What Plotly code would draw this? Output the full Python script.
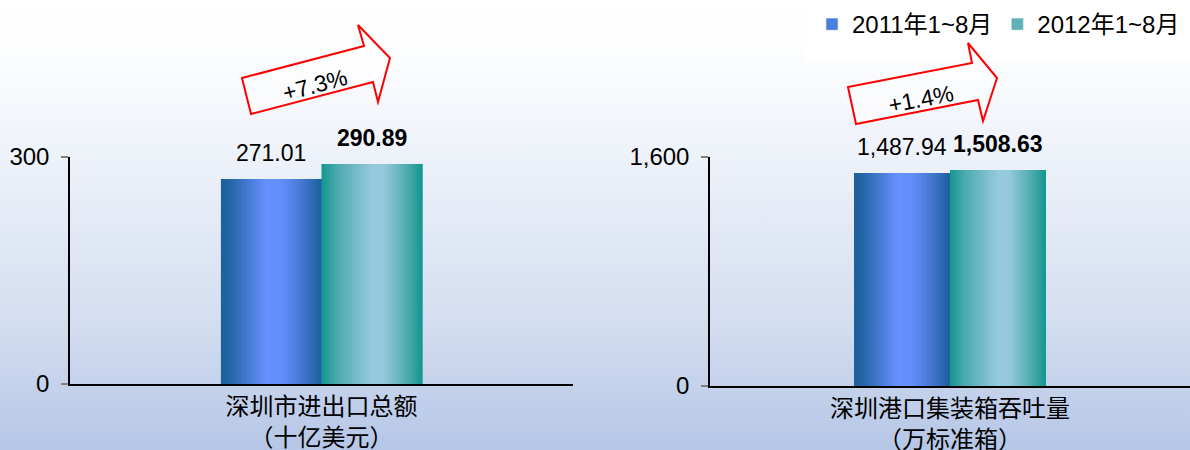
import base64
import plotly.graph_objects as go

# ---------------- data ----------------
categories = ["深圳市进出口总额<br>（十亿美元）", "深圳港口集装箱吞吐量<br>（万标准箱）"]
series_names = ["2011年1~8月", "2012年1~8月"]
values_2011 = [271.01, 1487.94]
values_2012 = [290.89, 1508.63]
growth_labels = ["+7.3%", "+1.4%"]
y_ticks_left = [0, 300]
y_ticks_right = [0, 1600]
y_max = [300, 1600]

# ---------------- styling ----------------
W, H = 1190, 450
FONT = "Liberation Sans, Arial, Noto Sans CJK SC, sans-serif"
blue_stops = [(0.0, "#1a5f9a"), (0.1, "#2766a8"), (0.45, "#6690ff"), (0.6, "#6290fb"),
              (0.85, "#3d72c6"), (1.0, "#1a5f9a")]
teal_stops = [(0.0, "#12978f"), (0.15, "#4aa9ad"), (0.5, "#96cade"), (0.62, "#94c9da"),
              (0.85, "#4eabae"), (1.0, "#11978f")]
series_stops = [blue_stops, teal_stops]
legend_colors = ["#4a7fdc", "#5fb3b8"]
N_STRIPS = 40
BAR_W = 0.2


def hex2rgb(h):
    h = h.lstrip("#")
    return tuple(int(h[i:i + 2], 16) for i in (0, 2, 4))


def interp(stops, t):
    for (t0, c0), (t1, c1) in zip(stops[:-1], stops[1:]):
        if t0 <= t <= t1:
            f = (t - t0) / (t1 - t0) if t1 > t0 else 0
            a, b = hex2rgb(c0), hex2rgb(c1)
            r = [round(a[k] + (b[k] - a[k]) * f) for k in range(3)]
            return "rgb(%d,%d,%d)" % tuple(r)
    return stops[-1][1]


def px_x(x):
    return x / W


def px_y(y):
    return 1 - y / H


fig = go.Figure()
series_values = [values_2011, values_2012]
axes = [("x", "y"), ("x2", "y2")]
annotations = []

for ci, cat in enumerate(categories):
    xa, ya = axes[ci]
    for si in range(2):
        val = series_values[si][ci]
        start = -BAR_W + si * BAR_W
        stops = series_stops[si]
        dw = BAR_W / N_STRIPS
        for i in range(N_STRIPS):
            fig.add_trace(go.Bar(
                x=[cat], y=[val], xaxis=xa, yaxis=ya,
                offset=start + i * dw, width=BAR_W - i * dw,
                marker=dict(color=interp(stops, (i + 0.5) / N_STRIPS), line=dict(width=0)),
                showlegend=False, hoverinfo="skip", name=series_names[si],
            ))
        # value label placed through the axes (category index + bar offset)
        label = "{:,.2f}".format(val)
        if si == 1:
            label = "<b>" + label + "</b>"
        annotations.append(dict(
            text=label, xref=xa, yref=ya, x=start + BAR_W / 2, y=val,
            xanchor="center", yanchor="bottom", yshift=11, showarrow=False,
            font=dict(family=FONT, size=23, color="black"),
        ))

# legend entries
for si in range(2):
    fig.add_trace(go.Bar(
        x=[categories[1]], y=[None], xaxis="x2", yaxis="y2",
        marker=dict(color=legend_colors[si]), name=series_names[si], showlegend=True,
    ))

# background gradient
svg = ('<svg xmlns="http://www.w3.org/2000/svg" width="100" height="100" preserveAspectRatio="none">'
       '<defs><linearGradient id="g" x1="0" y1="0" x2="0" y2="1">'
       '<stop offset="0" stop-color="#ffffff"/>'
       '<stop offset="0.12" stop-color="#fcfdfe"/>'
       '<stop offset="0.4" stop-color="#eaeff8"/>'
       '<stop offset="0.7" stop-color="#d5dff1"/>'
       '<stop offset="1" stop-color="#b5c6e6"/>'
       '</linearGradient></defs><rect width="100" height="100" fill="url(#g)"/></svg>')
bg_src = "data:image/svg+xml;base64," + base64.b64encode(svg.encode()).decode()

# arrow outlines (pixel vertices -> paper)
left_arrow_px = [(242, 78), (364, 46), (358, 25), (390, 58), (378, 102), (373, 82), (251, 114)]
right_arrow_px = [(848, 87), (972, 63), (968, 43), (997, 78), (983, 121), (978, 100), (856, 124)]


def path_of(pts):
    return "M " + " L ".join("%.5f,%.5f" % (px_x(x), px_y(y)) for x, y in pts) + " Z"


shapes = [
    dict(type="rect", xref="paper", yref="paper", x0=px_x(806), x1=1, y0=px_y(62), y1=1,
         fillcolor="white", line=dict(width=0), layer="below"),
]
for pts in (left_arrow_px, right_arrow_px):
    shapes.append(dict(type="path", xref="paper", yref="paper", path=path_of(pts),
                       fillcolor="rgba(255,255,255,0.55)", line=dict(color="#ff0000", width=2)))

annotations += [
    dict(text=growth_labels[0], xref="paper", yref="paper", x=px_x(315), y=px_y(85),
         xanchor="center", yanchor="middle",
         showarrow=False, textangle=-15, font=dict(family=FONT, size=23, color="black")),
    dict(text=growth_labels[1], xref="paper", yref="paper", x=px_x(921), y=px_y(99),
         xanchor="center", yanchor="middle",
         showarrow=False, textangle=-11, font=dict(family=FONT, size=23, color="black")),
]

common_x = dict(type="category", range=[-0.5, 0.5], showline=True, linecolor="black",
                linewidth=1.5, ticks="", showgrid=False, zeroline=False, automargin=False,
                tickfont=dict(family=FONT, size=24, color="black"), fixedrange=True)
common_y = dict(showline=True, linecolor="black", linewidth=1.5, ticks="outside", ticklen=7,
                tickcolor="#808080", tickwidth=1.5, showgrid=False, zeroline=False,
                automargin=False,
                tickformat=",d", tickfont=dict(family=FONT, size=24, color="black"),
                ticklabelstandoff=7, fixedrange=True)

fig.update_layout(
    width=W, height=H,
    margin=dict(l=0, r=0, t=0, b=0, autoexpand=False),
    paper_bgcolor="rgba(0,0,0,0)", plot_bgcolor="rgba(0,0,0,0)",
    barmode="overlay",
    font=dict(family=FONT, color="black"),
    xaxis=dict(common_x, domain=[px_x(70), px_x(573)], anchor="y"),
    yaxis=dict(common_y, domain=[px_y(384), px_y(157)], range=[0, y_max[0]],
               tickvals=y_ticks_left, anchor="x"),
    xaxis2=dict(common_x, domain=[px_x(710), 1.0], anchor="y2"),
    yaxis2=dict(common_y, domain=[px_y(386), px_y(157)], range=[0, y_max[1]],
                tickvals=y_ticks_right, anchor="x2"),
    legend=dict(orientation="h", x=px_x(812), xanchor="left", y=px_y(2), yanchor="top",
                font=dict(family=FONT, size=24, color="black"), bgcolor="rgba(0,0,0,0)",
                itemwidth=30, traceorder="normal"),
    images=[dict(source=bg_src, xref="paper", yref="paper", x=0, y=1, sizex=1, sizey=1,
                 xanchor="left", yanchor="top", sizing="stretch", layer="below")],
    shapes=shapes,
    annotations=annotations,
    showlegend=True,
)

fig.write_html(
    "out.html",
    config={"displayModeBar": False},
    post_script="document.body.style.margin='0';document.body.style.overflow='hidden';",
)
